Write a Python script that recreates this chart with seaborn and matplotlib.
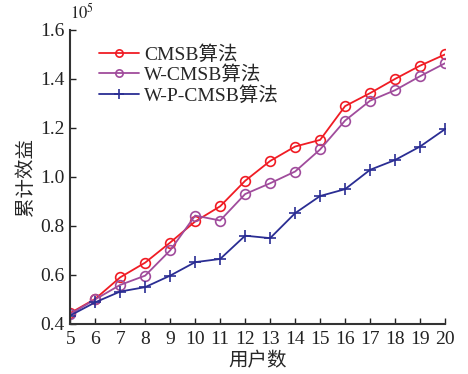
import matplotlib
matplotlib.use("Agg")
import matplotlib.pyplot as plt
import seaborn as sns
import pandas as pd

users = [5, 6, 7, 8, 9, 10, 11, 12, 13, 14, 15, 16, 17, 18, 19, 20]
cmsb = [0.444, 0.502, 0.59, 0.65, 0.732, 0.818, 0.88, 0.984, 1.065, 1.124, 1.151, 1.289, 1.342, 1.40, 1.454, 1.50]
w_cmsb = [0.44, 0.50, 0.559, 0.597, 0.70, 0.842, 0.822, 0.93, 0.974, 1.022, 1.112, 1.23, 1.311, 1.354, 1.411, 1.464]
w_p_cmsb = [0.434, 0.488, 0.532, 0.55, 0.597, 0.652, 0.665, 0.76, 0.75, 0.852, 0.922, 0.95, 1.029, 1.069, 1.124, 1.195]
series_names = ["CMSB算法", "W-CMSB算法", "W-P-CMSB算法"]
series_colors = ["#f01c24", "#a04c9c", "#2a2d93"]
series_markers = ["o", "o", "+"]
yticks = [0.4, 0.6, 0.8, 1.0, 1.2, 1.4, 1.6]

sns.set_style("ticks")
plt.rcParams["font.family"] = ["Liberation Serif", "Noto Sans CJK SC"]
plt.rcParams["mathtext.fontset"] = "stix"

df = pd.DataFrame({
    "users": users * 3,
    "value": cmsb + w_cmsb + w_p_cmsb,
    "algo": [series_names[0]] * len(users) + [series_names[1]] * len(users) + [series_names[2]] * len(users),
})

fig = plt.figure(figsize=(4.68, 3.74), dpi=100)
ax = fig.add_axes([0.15, 0.134, 0.801, 0.786])

for name, color, marker in zip(series_names, series_colors, series_markers):
    sub = df[df["algo"] == name]
    sns.lineplot(data=sub, x="users", y="value", ax=ax, color=color, label=name,
                 marker=marker, markersize=7 if marker == "o" else 9,
                 markerfacecolor="none", markeredgecolor=color, markeredgewidth=1.2,
                 linewidth=1.3)

ax.set_xlim(5, 20)
ax.set_ylim(0.4, 1.6)
ax.set_xticks(users)
ax.set_xticklabels([str(u) for u in users])
ax.set_yticks(yticks)
ax.set_yticklabels([f"{t:.1f}" for t in yticks])
ax.tick_params(direction="in", labelsize=14, length=4, width=1, colors="#222222", pad=4)
ax.tick_params(axis="x", pad=5)
for s in ["top", "right"]:
    ax.spines[s].set_visible(False)
for s in ["left", "bottom"]:
    ax.spines[s].set_linewidth(1.5)
    ax.spines[s].set_color("#333333")

ax.set_xlabel("用户数", fontsize=14, labelpad=3)
ax.set_ylabel("累计效益", fontsize=14, labelpad=4)
ax.text(0.0, 1.025, r"$10^5$", transform=ax.transAxes, fontsize=12, ha="left", va="bottom")

ax.legend(loc="upper left", bbox_to_anchor=(0.055, 0.975), frameon=False, fontsize=14,
          handlelength=2.1, handletextpad=0.25, labelspacing=0.1, markerscale=0.75,
          borderaxespad=0)

fig.savefig("out.png", dpi=100)
